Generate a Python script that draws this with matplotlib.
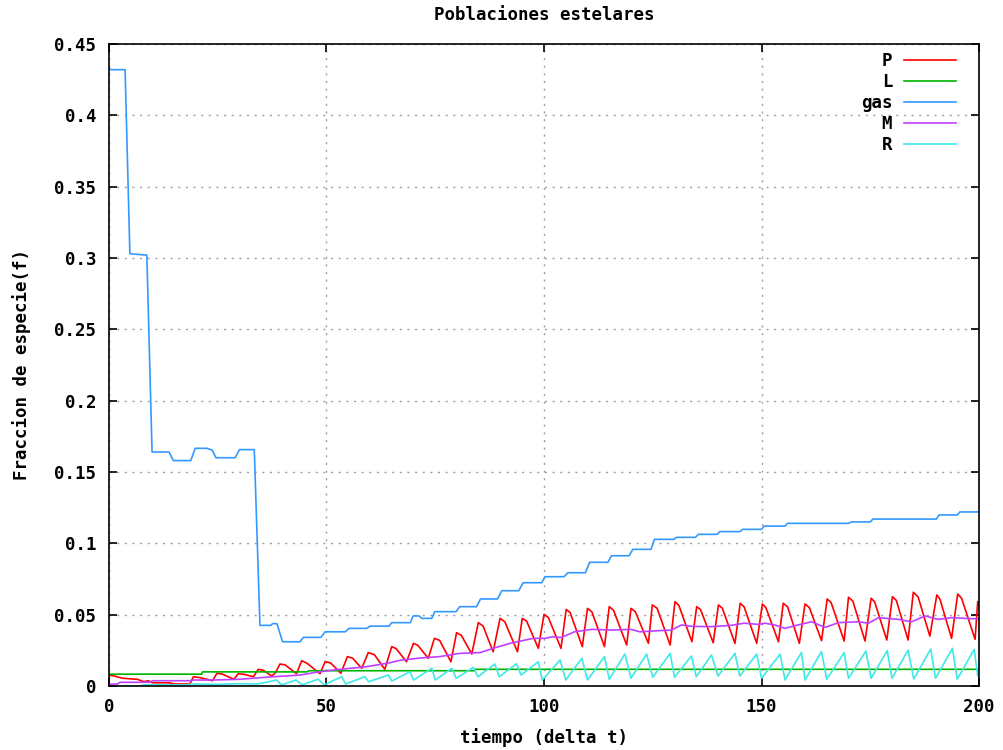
import matplotlib
matplotlib.use("Agg")
import matplotlib.pyplot as plt

# vertices: time (delta t) and fraction
p_t = [0, 1, 3, 5, 6.5, 8, 9, 10, 14, 15, 18.6, 19.4, 21, 23.8, 24.8, 26, 28.7, 29.7, 31, 33.2,
       34.3, 35.5, 37.4, 38.2, 39.3, 40.5, 43.1, 44.3, 45.5, 48.5, 49.7, 51, 53.3, 54.8, 56, 58.1,
       59.6, 61, 63.4, 65, 66, 68.4, 70, 71, 73.4, 74.8, 76, 78.6, 79.9, 81, 83.4, 84.9, 86, 88.3,
       89.9, 91, 93.9, 95, 96, 98.7, 100, 101, 103.9, 105.1, 106, 108.8, 110, 111, 113.9, 115, 116,
       119, 120, 121, 124, 124.9, 126, 129, 130.1, 131, 134, 135.1, 136, 138.9, 140.1, 141, 143.9,
       145.1, 146, 148.9, 150.2, 151, 153.9, 155, 156, 158.7, 160, 161, 163.8, 165.1, 166, 169, 170,
       171, 173.8, 175.2, 176, 178.8, 180.1, 181, 183.7, 184.9, 186, 188.7, 190.3, 191, 193.7,
       195.1, 196, 199.1, 199.7, 200]
p_f = [0.0075, 0.0072, 0.0055, 0.0050, 0.0047, 0.0030, 0.0037, 0.0023, 0.0022, 0.0014, 0.0014,
       0.0065, 0.0058, 0.0037, 0.0089, 0.0084, 0.0047, 0.0086, 0.0082, 0.0065, 0.0117, 0.0110,
       0.0070, 0.0090, 0.0154, 0.0148, 0.0086, 0.0177, 0.0160, 0.0086, 0.0172, 0.0160, 0.0089,
       0.0206, 0.0195, 0.0124, 0.0234, 0.0220, 0.0117, 0.0276, 0.0262, 0.0170, 0.0299, 0.0285,
       0.0194, 0.0334, 0.0320, 0.0170, 0.0374, 0.0355, 0.0224, 0.0444, 0.0420, 0.0240, 0.0474,
       0.0450, 0.0240, 0.0474, 0.0455, 0.0264, 0.0502, 0.0480, 0.0264, 0.0537, 0.0515, 0.0276,
       0.0544, 0.0520, 0.0276, 0.0556, 0.0530, 0.0287, 0.0544, 0.0520, 0.0299, 0.0568, 0.0545,
       0.0287, 0.0591, 0.0565, 0.0310, 0.0556, 0.0535, 0.0303, 0.0568, 0.0545, 0.0299, 0.0580,
       0.0555, 0.0299, 0.0575, 0.0550, 0.0310, 0.0580, 0.0555, 0.0299, 0.0575, 0.0550, 0.0318,
       0.0610, 0.0585, 0.0315, 0.0622, 0.0595, 0.0315, 0.0615, 0.0590, 0.0322, 0.0626, 0.0600,
       0.0322, 0.0657, 0.0625, 0.0350, 0.0638, 0.0610, 0.0334, 0.0645, 0.0615, 0.0327, 0.0591,
       0.0560]

l_t = [0, 21.3, 21.5, 45.5, 46, 84, 84.3, 200]
l_f = [0.0083, 0.0083, 0.0099, 0.0099, 0.0107, 0.0107, 0.0117, 0.0117]

gas_t = [0, 0.5, 3.7, 4.8, 8.7, 9.9, 13.8, 14.8, 18.8, 19.8, 22.5, 23.7, 24.6, 29, 30, 33.4, 34.7,
         37.2, 37.6, 38.6, 39.9, 43.9, 44.7, 48.7, 49.7, 54.3, 55.2, 59.3, 60, 64.4, 65, 69.3, 69.9,
         71.3, 71.9, 74.2, 74.9, 79.8, 80.6, 84.5, 85.4, 89.3, 90.3, 94.2, 95.2, 99.5, 100.2, 104.6,
         105.5, 109.5, 110.5, 114.7, 115.5, 119.6, 120.4, 124.6, 125.4, 129.8, 130.5, 134.8, 135.5,
         139.8, 140.4, 145, 145.7, 150, 150.6, 155.4, 156, 170, 170.7, 175, 175.6, 190.2, 190.8,
         195, 195.6, 200]
gas_f = [0.433, 0.432, 0.432, 0.303, 0.302, 0.164, 0.164, 0.158, 0.158, 0.1666, 0.1666, 0.1654,
         0.160, 0.160, 0.1657, 0.1657, 0.0425, 0.0425, 0.0437, 0.0437, 0.031, 0.031, 0.0341,
         0.0341, 0.038, 0.038, 0.0404, 0.0404, 0.042, 0.042, 0.0444, 0.0444, 0.0491, 0.0491,
         0.0474, 0.0474, 0.0521, 0.0521, 0.0556, 0.0556, 0.061, 0.061, 0.0668, 0.0668, 0.0724,
         0.0724, 0.0766, 0.0766, 0.0794, 0.0794, 0.0867, 0.0867, 0.0913, 0.0913, 0.0958, 0.0958,
         0.1028, 0.1028, 0.1042, 0.1042, 0.1063, 0.1063, 0.1082, 0.1082, 0.1098, 0.1098, 0.1121,
         0.1121, 0.114, 0.114, 0.115, 0.115, 0.117, 0.117, 0.1199, 0.1199, 0.122, 0.122]

m_t = [0, 2, 2.5, 9.4, 10, 18.6, 19.5, 24, 30, 36, 44, 47, 51.5, 59.2, 64.6, 66.9, 71.5, 76, 80.7,
       85.3, 88.3, 92.2, 97.5, 100.2, 102, 104, 107, 111, 115.5, 120, 122, 126.5, 129.3, 131.6,
       134, 138.5, 143, 146, 149.3, 150.8, 153, 155.4, 158, 161.5, 164.6, 167.7, 172.3, 174.6,
       176.9, 181.5, 184.5, 187.6, 190.6, 193.7, 196.8, 200]
m_f = [0.0013, 0.0014, 0.0026, 0.0026, 0.0037, 0.0037, 0.0042, 0.0042, 0.0047, 0.0061, 0.0077,
       0.0093, 0.0112, 0.0135, 0.0163, 0.0180, 0.0196, 0.0206, 0.0229, 0.0234, 0.0264, 0.0299,
       0.0334, 0.0334, 0.0345, 0.0340, 0.0380, 0.0397, 0.0392, 0.0397, 0.0380, 0.0388, 0.0392,
       0.0428, 0.0418, 0.0416, 0.0425, 0.0440, 0.0432, 0.0440, 0.0428, 0.0404, 0.0425, 0.0450,
       0.0411, 0.0444, 0.0450, 0.0440, 0.0479, 0.0467, 0.0450, 0.0491, 0.0467, 0.0479, 0.0474,
       0.0470]

r_t = [0, 7, 8, 18, 19, 25, 30, 34, 36, 38.5, 39.7, 43, 44.4, 48.1, 49.4, 53.5, 54.4, 58.8, 59.7,
       64.2, 65, 69.2, 70, 74.2, 75, 78.8, 79.8, 83.8, 84.8, 88.7, 89.7, 93.7, 94.7, 98.7, 99.6,
       103.7, 105, 108.7, 110, 113.9, 115, 118.6, 120, 123.6, 125, 129, 130, 133.9, 135, 138.5,
       140, 143.9, 145, 148.9, 150, 154.3, 155.4, 159.2, 160, 163.8, 165, 169, 170, 174, 175.2,
       178.9, 180, 183.7, 185, 188.9, 190, 193.9, 195, 198.9, 199.7, 200]
r_f = [0, 0, 0.0008, 0.0008, 0.0014, 0.0012, 0.0016, 0.0014, 0.0025, 0.0042, 0.0008, 0.0042,
       0.0008, 0.0048, 0.0008, 0.0065, 0.0014, 0.0065, 0.0030, 0.0077, 0.0035, 0.0100, 0.0042,
       0.0124, 0.0042, 0.0124, 0.0054, 0.0131, 0.0065, 0.0154, 0.0065, 0.0156, 0.0077, 0.0170,
       0.0042, 0.0182, 0.0042, 0.0194, 0.0042, 0.0206, 0.0047, 0.0224, 0.0054, 0.0224, 0.0061,
       0.0229, 0.0061, 0.0210, 0.0065, 0.0217, 0.0070, 0.0229, 0.0070, 0.0224, 0.0054, 0.0224,
       0.0042, 0.0236, 0.0042, 0.0241, 0.0047, 0.0234, 0.0054, 0.0245, 0.0054, 0.0248, 0.0054,
       0.0252, 0.0049, 0.0259, 0.0054, 0.0264, 0.0047, 0.0257, 0.0070, 0.0100]

x_ticks = [0, 50, 100, 150, 200]
y_ticks = [0, 0.05, 0.1, 0.15, 0.2, 0.25, 0.3, 0.35, 0.4, 0.45]
y_labels = ["0", "0.05", "0.1", "0.15", "0.2", "0.25", "0.3", "0.35", "0.4", "0.45"]

plt.rcParams['font.family'] = ['DejaVu Sans Mono']
plt.rcParams['font.weight'] = 'bold'
fs = 12.5

fig = plt.figure(figsize=(10.04, 7.5), dpi=100)
ax = fig.add_axes([109 / 1004, 1 - 686 / 750, 870 / 1004, 642 / 750])

lw = 1.2
ax.plot(p_t, p_f, color='#ff0000', lw=lw, label='P')
ax.plot(l_t, l_f, color='#00b400', lw=lw, label='L')
ax.plot(gas_t, gas_f, color='#3399ff', lw=lw, label='gas')
ax.plot(m_t, m_f, color='#c040ff', lw=lw, label='M')
ax.plot(r_t, r_f, color='#40e8e8', lw=lw, label='R')

ax.set_xlim(0, 200)
ax.set_ylim(0, 0.45)
ax.set_xticks(x_ticks)
ax.set_xticklabels([str(v) for v in x_ticks], fontsize=fs, fontweight='bold')
ax.set_yticks(y_ticks)
ax.set_yticklabels(y_labels, fontsize=fs, fontweight='bold')
ax.tick_params(direction='in', length=6, width=1.2, top=True, right=True, pad=9)
ax.grid(True, color='#a0a0a0', lw=1.0, linestyle=(0, (1.5, 4)))
for s in ax.spines.values():
    s.set_linewidth(1.2)

ax.set_title('Poblaciones estelares', fontsize=fs, fontweight='bold', pad=17)
ax.set_xlabel('tiempo (delta t)', fontsize=fs, fontweight='bold', labelpad=8)
ax.set_ylabel('Fraccion de especie(f)', fontsize=fs, fontweight='bold', labelpad=17)

leg = ax.legend(loc='upper right', frameon=False, markerfirst=False, fontsize=fs,
                handlelength=3.0, handletextpad=0.7, labelspacing=0.17,
                borderaxespad=0.3, bbox_to_anchor=(0.988, 1.006))
for t in leg.get_texts():
    t.set_fontweight('bold')

fig.savefig('out.png', dpi=100)
